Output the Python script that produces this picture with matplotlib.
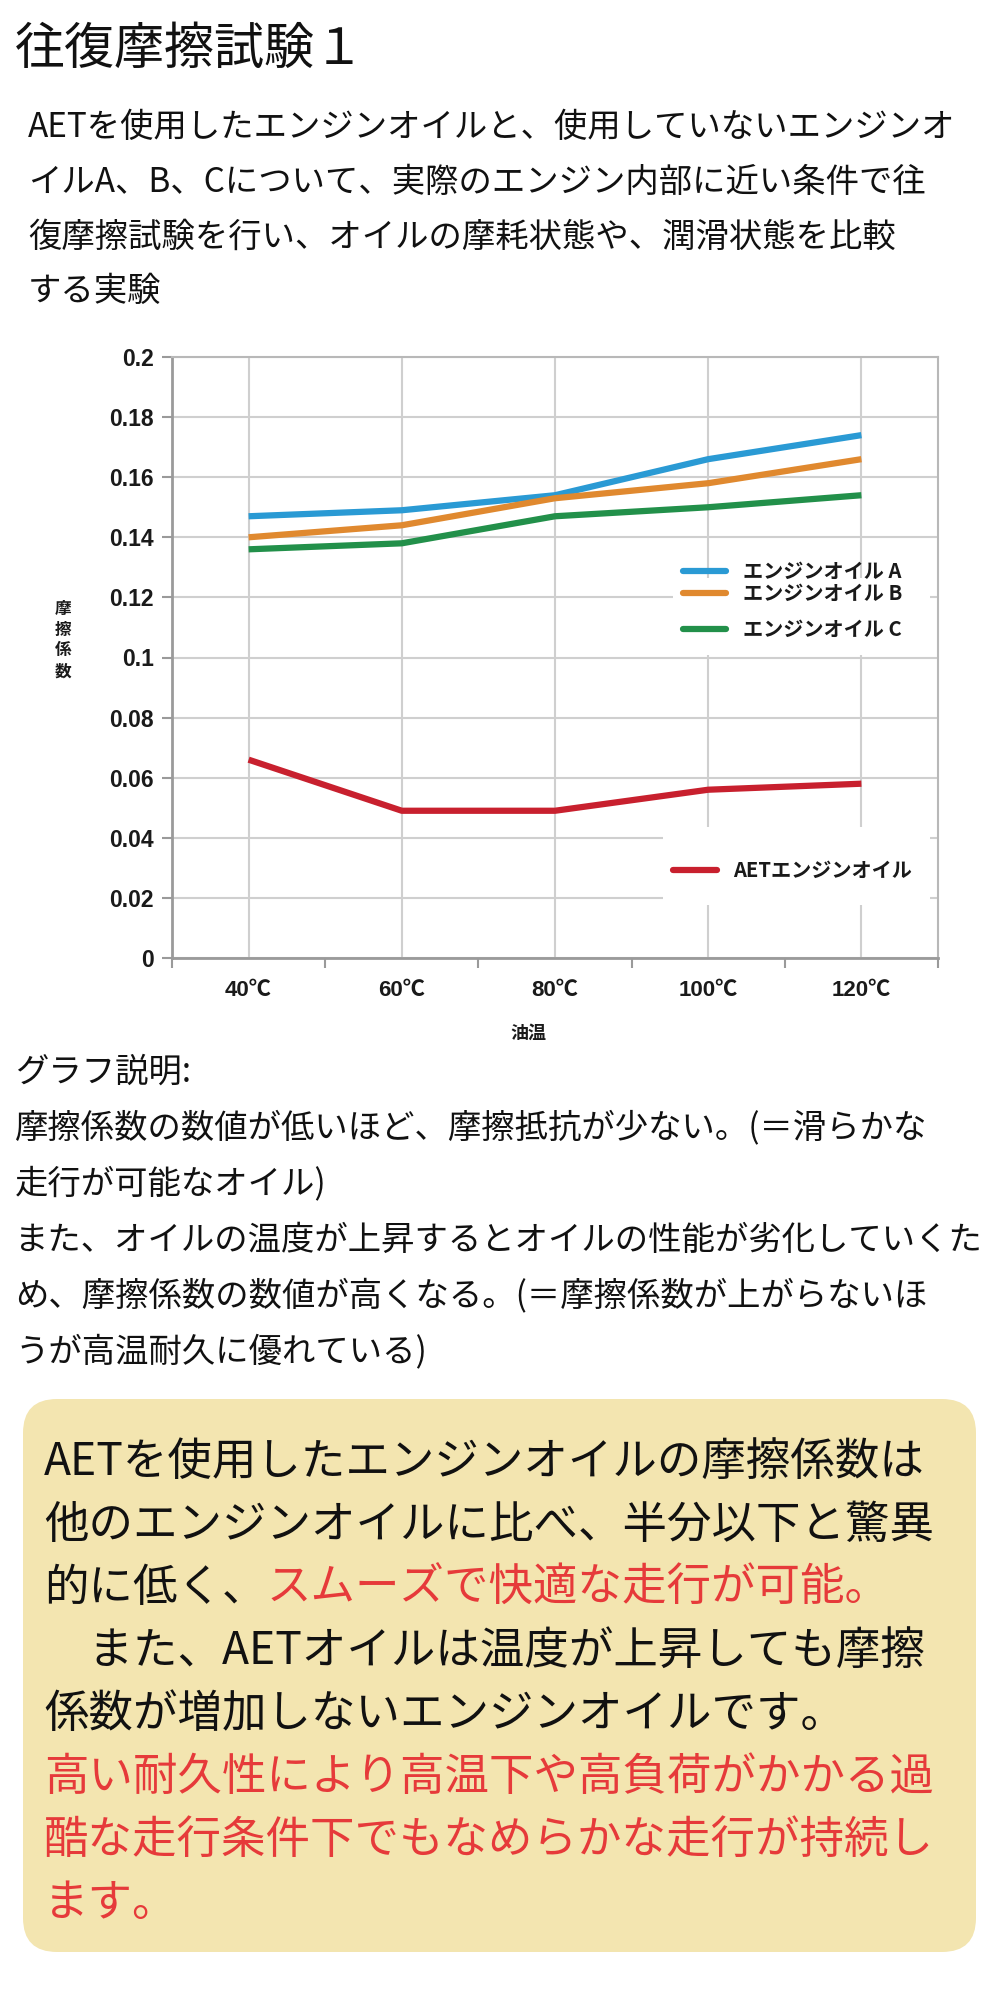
import numpy as np
import matplotlib
matplotlib.use("Agg")
import matplotlib.pyplot as plt
from matplotlib import font_manager
from matplotlib.lines import Line2D
from matplotlib.patches import FancyBboxPatch, Rectangle
from matplotlib.text import Annotation

plt.rcParams['font.family'] = ['Noto Sans CJK JP', 'DejaVu Sans']

installed = set(f.name for f in font_manager.fontManager.ttflist)
num_font = 'Liberation Sans Narrow' if 'Liberation Sans Narrow' in installed else 'Liberation Sans'

# data
temps = ['40℃', '60℃', '80℃', '100℃', '120℃']
oil_a = [0.147, 0.149, 0.154, 0.166, 0.174]
oil_b = [0.140, 0.144, 0.153, 0.158, 0.166]
oil_c = [0.136, 0.138, 0.147, 0.150, 0.154]
oil_aet = [0.066, 0.049, 0.049, 0.056, 0.058]
names = ['エンジンオイル A', 'エンジンオイル B', 'エンジンオイル C', 'AETエンジンオイル']
yticks = [0, 0.02, 0.04, 0.06, 0.08, 0.1, 0.12, 0.14, 0.16, 0.18, 0.2]
ytick_labels = ['0', '0.02', '0.04', '0.06', '0.08', '0.1', '0.12', '0.14', '0.16', '0.18', '0.2']

title = '往復摩擦試験１'
intro = ['AETを使用したエンジンオイルと、使用していないエンジンオ',
         'イルA、B、Cについて、実際のエンジン内部に近い条件で往',
         '復摩擦試験を行い、オイルの摩耗状態や、潤滑状態を比較',
         'する実験']
notes = ['グラフ説明:',
         '摩擦係数の数値が低いほど、摩擦抵抗が少ない。(＝滑らかな',
         '走行が可能なオイル)',
         'また、オイルの温度が上昇するとオイルの性能が劣化していくた',
         'め、摩擦係数の数値が高くなる。(＝摩擦係数が上がらないほ',
         'うが高温耐久に優れている)']
# (black part, red part)
box_lines = [('AETを使用したエンジンオイルの摩擦係数は', ''),
             ('他のエンジンオイルに比べ、半分以下と驚異', ''),
             ('的に低く、', 'スムーズで快適な走行が可能。'),
             ('　また、AETオイルは温度が上昇しても摩擦', ''),
             ('係数が増加しないエンジンオイルです。', ''),
             ('', '高い耐久性により高温下や高負荷がかかる過'),
             ('', '酷な走行条件下でもなめらかな走行が持続し'),
             ('', 'ます。')]

colors = ['#2a9ad4', '#e0892f', '#22904a', '#c8202e']
RED = '#e63a3a'
W, H = 1000, 2000

fig = plt.figure(figsize=(10, 20), dpi=100)
fig.patch.set_facecolor('white')

def fx(px):
    return px / W

def fy(py):
    return 1 - py / H

# texts at top
fig.text(fx(15), fy(50), title, fontsize=36, va='center', ha='left', color='#111111')
for i, line in enumerate(intro):
    fig.text(fx(28), fy(128 + i * 54.5), line, fontsize=24, va='center', ha='left', color='#111111')

# chart
ax = fig.add_axes([fx(172), fy(958), fx(938) - fx(172), fy(357) - fy(958)])
x = np.arange(len(temps))
for vals, c in zip([oil_a, oil_b, oil_c, oil_aet], colors):
    ax.plot(x, vals, color=c, lw=4.5, solid_capstyle='butt', solid_joinstyle='round', zorder=3)

ax.set_xlim(-0.5, len(temps) - 0.5)
ax.set_ylim(0, 0.2)
ax.set_yticks(yticks)
ax.set_yticklabels(ytick_labels, family=[num_font, 'DejaVu Sans'], fontsize=16.5,
                   fontweight='bold', color='#1a1a1a')
ax.set_xticks(x)
ax.set_xticklabels(temps, family=[num_font, 'Noto Sans CJK JP'], fontsize=16,
                   fontweight='bold', color='#1a1a1a')
ax.set_xticks(np.arange(-0.5, len(temps), 1.0), minor=True)
ax.tick_params(axis='x', which='major', length=0, pad=16)
ax.tick_params(axis='x', which='minor', length=7, width=1.5, color='#9a9a9a', direction='out')
ax.tick_params(axis='y', length=7, width=1.5, color='#9a9a9a', direction='out', pad=6)
ax.set_axisbelow(True)
ax.grid(True, which='major', color='#cfcfcf', lw=1.5)
for side in ['left', 'bottom']:
    ax.spines[side].set_color('#9a9a9a')
    ax.spines[side].set_linewidth(2)
for side in ['top', 'right']:
    ax.spines[side].set_color('#b8b8b8')
    ax.spines[side].set_linewidth(1.5)

# legend boxes (white patches that break the grid)
for (bx0, by0, bx1, by1) in [(673, 578, 930, 655), (663, 827, 930, 905)]:
    fig.add_artist(Rectangle((fx(bx0), fy(by1)), fx(bx1) - fx(bx0), fy(by0) - fy(by1),
                             transform=fig.transFigure, facecolor='white', edgecolor='none', zorder=2))

leg_pos = [(683, 726, 743, 571), (683, 726, 743, 593), (683, 726, 743, 629), (673, 717, 733, 870)]
for (lx0, lx1, tx, ly), name, c in zip(leg_pos, names, colors):
    fig.add_artist(Line2D([fx(lx0), fx(lx1)], [fy(ly), fy(ly)], transform=fig.transFigure,
                          color=c, lw=4.5, solid_capstyle='round', zorder=3))
    fig.text(fx(tx), fy(ly), name, fontsize=14.5, fontweight='bold', va='center', ha='left',
             color='#1a1a1a', zorder=4)

fig.text(fx(63), fy(640), '摩\n擦\n係\n数', fontsize=12, fontweight='bold', va='center', ha='center',
         linespacing=1.2, color='#1a1a1a')
fig.text(fx(528), fy(1033), '油温', fontsize=13, fontweight='bold', va='center', ha='center', color='#1a1a1a')

# explanation
for i, line in enumerate(notes):
    fig.text(fx(15), fy(1072 + i * 56), line, fontsize=24, va='center', ha='left', color='#111111')

# yellow box
box = FancyBboxPatch((23 / 100, (H - 1952) / 100), 953 / 100, 553 / 100,
                     boxstyle='round,pad=0,rounding_size=0.34', transform=fig.dpi_scale_trans,
                     facecolor='#f3e5b0', edgecolor='none', zorder=0)
fig.add_artist(box)

for i, (blk, red) in enumerate(box_lines):
    y = fy(1462 + i * 63)
    if blk:
        t = fig.text(fx(44), y, blk, fontsize=32, va='center', ha='left', color='#111111', zorder=2)
        if red:
            fig.add_artist(Annotation(red, xy=(1, 0), xycoords=t, va='bottom', ha='left',
                                      fontsize=32, color=RED, zorder=2))
    else:
        fig.text(fx(44), y, red, fontsize=32, va='center', ha='left', color=RED, zorder=2)

fig.savefig('out.png', dpi=100, facecolor='white')
